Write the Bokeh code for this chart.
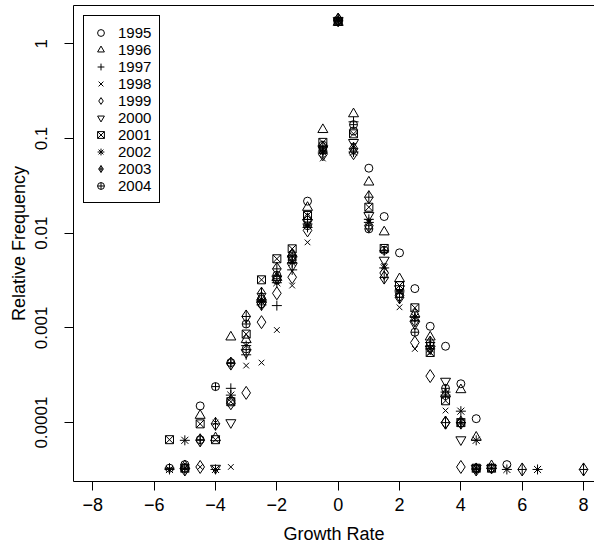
from bokeh.plotting import figure
from bokeh.models import Range1d, FixedTicker, LinearAxis, Legend, LegendItem
from bokeh.embed import file_html
from bokeh.resources import INLINE

N = float("nan")

growth = [-5.5, -5, -4.5, -4, -3.5, -3, -2.5, -2, -1.5, -1, -0.5, 0, 0.5, 1,
          1.5, 2, 2.5, 3, 3.5, 4, 4.5, 5, 5.5, 6, 6.5, 7, 7.5, 8]

v1995 = [N, 3.6e-5, 1.5e-4, N, 1.7e-4, 6.0e-4, 1.8e-3, 3.2e-3, 5.5e-3, 0.0218, 0.085, 1.70,
         0.12, 0.0486, 0.015, 0.0062, 0.0026, 0.00104, 6.4e-4, 2.57e-4, 1.1e-4, N, 3.6e-5, N, N, N, N, N]
v1996 = [N, 3.5e-5, 1.19e-4, 6.9e-5, 8.0e-4, 7.5e-4, 2.1e-3, 3.4e-3, 6.0e-3, 0.0187, 0.124, 1.68,
         0.182, 0.0346, 0.0103, 0.0033, 0.0014, 0.0008, 2.0e-4, 2.22e-4, 7.0e-5, 3.5e-5, N, N, N, N, N, N]
v1997 = [3.3e-5, N, N, N, 2.3e-4, 5.2e-4, 1.75e-3, 1.72e-3, 4.1e-3, 0.0115, 0.070, 1.74,
         0.15, 0.014, 0.0065, 0.0025, 0.0013, 0.0007, 2.1e-4, 1.0e-4, 3.3e-5, 3.3e-5, N, N, N, N, N, N]
v1998 = [N, N, 3.4e-5, 1.0e-4, 3.4e-5, 4.0e-4, 4.3e-4, 9.5e-4, 2.8e-3, 0.0080, 0.0615, 1.78,
         0.084, 0.0131, 0.0045, 0.00165, 0.0006, 0.00055, 1.34e-4, N, N, N, N, N, N, N, N, N]
v1999 = [N, N, 3.4e-5, N, 1.6e-4, 2.06e-4, 1.15e-3, 2.32e-3, 3.43e-3, 0.0107, 0.068, 1.80,
         0.070, 0.012, 0.0038, 0.0022, 0.0007, 0.00031, 1.0e-4, 3.4e-5, N, N, N, N, N, N, N, N]
v2000 = [N, N, N, 3.3e-5, 1.0e-4, 5.5e-4, 1.75e-3, 3.3e-3, 4.5e-3, 0.013, 0.078, 1.76,
         0.091, 0.0154, 0.0052, 0.0026, 0.0011, 0.0006, 2.74e-4, 6.6e-5, 3.3e-5, 3.3e-5, N, N, N, N, N, N]
v2001 = [6.6e-5, 3.3e-5, 9.7e-5, 6.6e-5, 1.66e-4, 8.6e-4, 3.22e-3, 5.37e-3, 6.84e-3, 0.0154, 0.091, 1.72,
         0.112, 0.0188, 0.0069, 0.0028, 0.00163, 0.00055, 1.7e-4, 1.0e-4, 3.3e-5, 3.3e-5, N, N, N, N, N, N]
v2002 = [3.2e-5, 6.5e-5, N, 3.2e-5, 1.95e-4, 6.5e-4, 1.9e-3, 3.0e-3, 4.9e-3, 0.0125, 0.072, 1.77,
         0.072, 0.013, 0.0043, 0.0024, 0.0013, 0.0006, 1.95e-4, 1.32e-4, 6.5e-5, N, 3.2e-5, N, 3.2e-5, N, N, N]
v2003 = [N, 3.2e-5, 6.5e-5, 9.7e-5, 4.2e-4, 1.32e-3, 2.3e-3, 4.2e-3, 5.8e-3, 0.014, 0.080, 1.79,
         0.078, 0.024, 0.0034, 0.0021, 0.0012, 0.0007, 1.0e-4, 1.0e-4, 3.2e-5, N, N, 3.2e-5, N, N, N, 3.2e-5]
v2004 = [3.3e-5, 3.3e-5, 6.6e-5, 2.4e-4, 4.3e-4, 1.1e-3, 2.0e-3, 3.6e-3, 5.2e-3, 0.012, 0.075, 1.75,
         0.14, 0.0111, 0.0066, 0.0023, 0.0009, 0.00065, 2.3e-4, 9.9e-5, 3.3e-5, 3.3e-5, N, N, N, N, N, N]

years = ["1995", "1996", "1997", "1998", "1999", "2000", "2001", "2002", "2003", "2004"]
series = [v1995, v1996, v1997, v1998, v1999, v2000, v2001, v2002, v2003, v2004]
markers = ["circle", "triangle", "cross", "x", "diamond", "inverted_triangle",
           "square_x", "asterisk", "diamond_cross", "circle_cross"]
sizes = [8, 10, 10, 8, 13, 10, 8, 10, 13, 8]

x_ticks = [-8, -6, -4, -2, 0, 2, 4, 6, 8]
x_tick_labels = ["\u22128", "\u22126", "\u22124", "\u22122", "0", "2", "4", "6", "8"]
y_ticks = [1e-4, 1e-3, 1e-2, 1e-1, 1]
y_tick_labels = ["0.0001", "0.001", "0.01", "0.1", "1"]

FONT = "Liberation Sans"

p = figure(width=594, height=549,
           x_range=Range1d(-8.63, 8.357),
           y_range=Range1d(10 ** -4.622, 10 ** 0.4044),
           y_axis_type="log", output_backend="svg", toolbar_location=None,
           min_border_left=73, min_border_right=0, min_border_top=5, min_border_bottom=68)
p.outline_line_color = None
p.xgrid.visible = False
p.ygrid.visible = False
p.background_fill_color = "white"
p.border_fill_color = "white"

for ax in (p.xaxis[0], p.yaxis[0]):
    ax.axis_line_color = "black"
    ax.axis_line_width = 1
    ax.major_tick_line_color = "black"
    ax.major_tick_out = 9
    ax.major_tick_in = 0
    ax.minor_tick_line_color = None
    ax.major_label_text_font = FONT
    ax.major_label_text_color = "black"
    ax.axis_label_text_font = FONT
    ax.axis_label_text_font_size = "18px"
    ax.axis_label_text_font_style = "normal"
    ax.axis_label_text_color = "black"

p.xaxis.ticker = FixedTicker(ticks=x_ticks)
p.xaxis.major_label_overrides = {t: l for t, l in zip(x_ticks, x_tick_labels)}
p.xaxis.axis_label = "Growth Rate"
p.xaxis.major_label_text_font_size = "18px"
p.xaxis.major_label_standoff = 7
p.xaxis.axis_label_standoff = 10

p.yaxis.ticker = FixedTicker(ticks=y_ticks)
p.yaxis.major_label_overrides = {t: l for t, l in zip(y_ticks, y_tick_labels)}
p.yaxis.major_label_orientation = "vertical"
p.yaxis.major_label_text_font_size = "17px"
p.yaxis.axis_label = "Relative Frequency"
p.yaxis.major_label_standoff = 17
p.yaxis.axis_label_standoff = 4

top = LinearAxis(ticker=FixedTicker(ticks=[]), major_label_text_font_size="0px",
                 major_tick_out=0, major_tick_in=0, major_label_standoff=0,
                 axis_line_color="black", minor_tick_line_color=None)
p.add_layout(top, "above")

items = []
for yr, vals, m, s in zip(years, series, markers, sizes):
    r = p.scatter(x=growth, y=vals, marker=m, size=s, line_color="black",
                  fill_color=None, line_width=1)
    items.append(LegendItem(label=yr, renderers=[r]))

legend = Legend(items=items, location="top_left", margin=10, padding=8, spacing=0,
                glyph_width=17, glyph_height=17, label_height=17, label_standoff=9,
                label_text_font=FONT, label_text_font_size="15px", label_text_color="black",
                border_line_color="black", border_line_width=1, border_line_alpha=1,
                background_fill_color="white", background_fill_alpha=1)
p.add_layout(legend)

open("out.html", "w").write(file_html(p, INLINE))
